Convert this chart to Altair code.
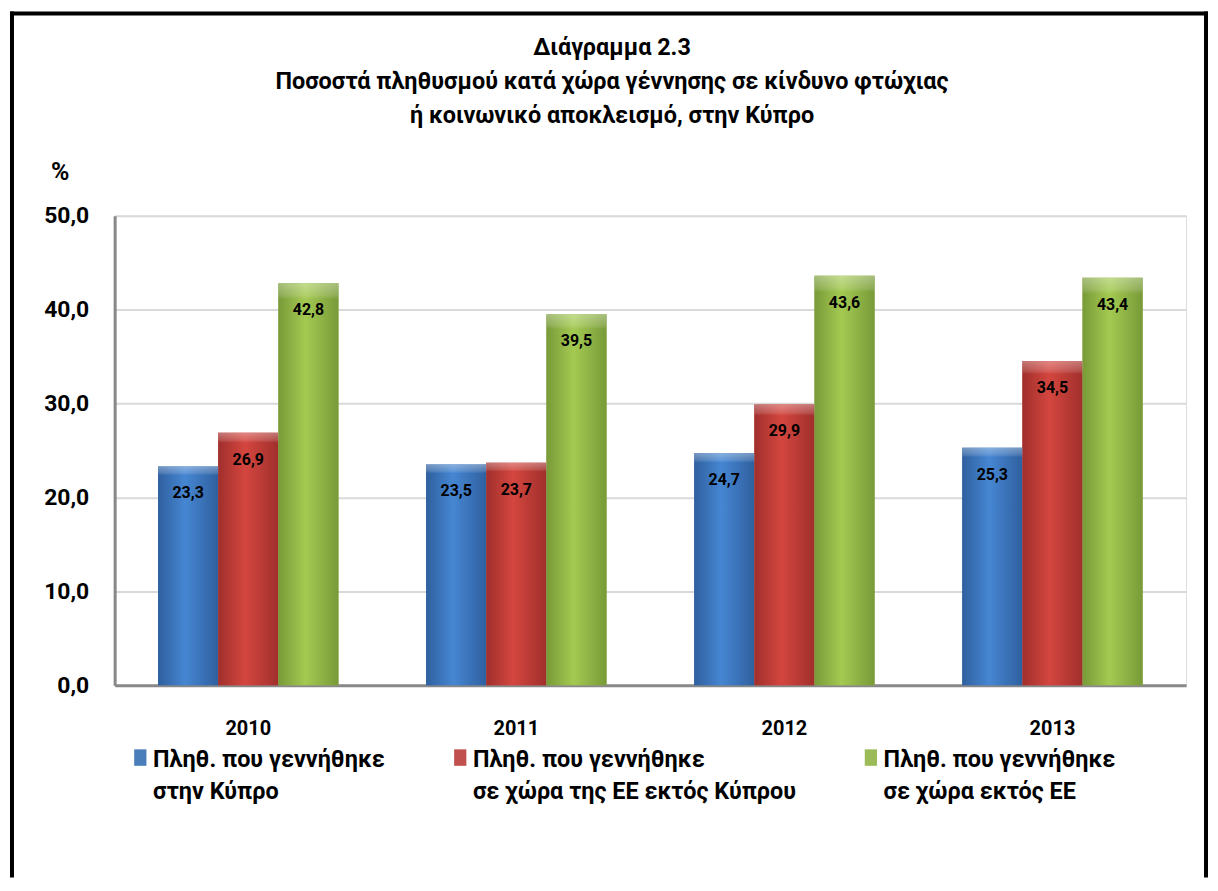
import altair as alt
import pandas as pd

# ---- data ----
years = ["2010", "2011", "2012", "2013"]
series = [
    "Πληθ. που γεννήθηκε|\u00a0\u00a0στην Κύπρο",
    "Πληθ. που γεννήθηκε|\u00a0σε χώρα της ΕΕ εκτός Κύπρου",
    "Πληθ. που γεννήθηκε|σε χώρα εκτός ΕΕ",
]
born_cyprus = [23.3, 23.5, 24.7, 25.3]
born_eu = [26.9, 23.7, 29.9, 34.5]
born_non_eu = [42.8, 39.5, 43.6, 43.4]
y_ticks = [0, 10, 20, 30, 40, 50]
title_lines = [
    "Διάγραμμα 2.3",
    "Ποσοστά πληθυσμού  κατά χώρα γέννησης σε κίνδυνο φτώχιας",
    "ή κοινωνικό αποκλεισμό, στην Κύπρο",
]
y_unit = "%"

FONT = "Roboto"
solid = ["#4a7ebb", "#c0504d", "#9bbb59"]

rows = []
for vals, s in zip([born_cyprus, born_eu, born_non_eu], series):
    for yr, v in zip(years, vals):
        rows.append({"year": yr, "series": s, "value": v})
df = pd.DataFrame(rows)


def grad(edge, center):
    return alt.Gradient(
        gradient="linear", x1=0, x2=1, y1=0, y2=0,
        stops=[
            alt.GradientStop(color=edge, offset=0),
            alt.GradientStop(color=center, offset=0.45),
            alt.GradientStop(color=edge, offset=1),
        ],
    )


g_blue = grad("#2f609f", "#4686d2")
g_red = grad("#a02f2c", "#d4463f")
g_green = grad("#789a38", "#a4ca52")

x_enc = alt.X("year:N", sort=years,
              scale=alt.Scale(paddingInner=0.327, paddingOuter=0.162),
              axis=alt.Axis(title=None, labelFont=FONT, labelFontSize=20,
                            labelFontWeight="bold", labelColor="black",
                            labelPadding=33, labelAngle=0, ticks=False,
                            domainColor="#888888", domainWidth=3, grid=False))
xo_enc = alt.XOffset("series:N", sort=series, scale=alt.Scale(paddingInner=0))
y_enc = alt.Y("value:Q",
              scale=alt.Scale(domain=[0, 50], nice=False),
              axis=alt.Axis(values=y_ticks, title=y_unit, titleAngle=0,
                            titleX=-55, titleY=-44, titleAlign="center",
                            titleBaseline="middle", titleFont=FONT,
                            titleFontSize=25, titleFontWeight="bold",
                            titleColor="black",
                            labelExpr="replace(format(datum.value, '.1f'), '.', ',')",
                            labelFont=FONT, labelFontSize=23,
                            labelFontWeight="bold", labelColor="black",
                            labelPadding=26, ticks=False,
                            domainColor="#888888", domainWidth=3,
                            gridColor="#d9d9d9", gridWidth=2))

base = alt.Chart(df)

legend_bars = base.mark_bar().encode(
    x=x_enc, xOffset=xo_enc, y=y_enc,
    color=alt.Color("series:N", sort=series,
                    scale=alt.Scale(domain=series, range=solid),
                    legend=alt.Legend(
                        title=None, orient="none", legendX=14, legendY=522,
                        direction="horizontal", columns=3, columnPadding=63,
                        symbolType="M-1,0.2L1,0.2L1,2.9L-1,2.9Z",
                        symbolSize=150,
                        symbolStrokeWidth=0, labelFont=FONT,
                        labelFontSize=23.5, labelFontWeight="bold",
                        labelColor="black", labelLimit=600, labelOffset=1,
                        labelBaseline="top",
                        labelExpr="split(datum.label, '|')",
                    )),
)

grad_bars = base.mark_bar().encode(
    x=x_enc, xOffset=xo_enc, y=y_enc,
    color={"condition": [
        {"test": f"datum.series === '{series[0]}'", "value": g_blue.to_dict()},
        {"test": f"datum.series === '{series[1]}'", "value": g_red.to_dict()},
    ], "value": g_green.to_dict()},
)

bevel = base.mark_bar(color=alt.Gradient(
    gradient="linear", x1=0, x2=0, y1=0, y2=1,
    stops=[alt.GradientStop(color="rgba(255,255,255,0.35)", offset=0),
           alt.GradientStop(color="rgba(255,255,255,0.15)", offset=0.03),
           alt.GradientStop(color="rgba(255,255,255,0)", offset=0.04),
           alt.GradientStop(color="rgba(255,255,255,0)", offset=1)])).encode(
    x=x_enc, xOffset=xo_enc, y=y_enc)

labels = base.transform_calculate(
    lbl="replace(format(datum.value, '.1f'), '.', ',')"
).mark_text(font=FONT, fontSize=16, fontWeight="bold", color="black",
            baseline="middle", dy=27).encode(
    x=x_enc, xOffset=xo_enc, y=y_enc, text="lbl:N")

one = alt.Data(values=[{"k": 1}])

title = alt.Chart(one).mark_text(
    text=title_lines, font=FONT, fontSize=23.5, fontWeight="bold",
    color="black", align="center", baseline="middle", lineHeight=34,
).encode(x=alt.value(499), y=alt.value(-168))

frame_top = alt.Chart(one).mark_rule(color="black", strokeWidth=4).encode(
    x=alt.value(-105), x2=alt.value(1097), y=alt.value(-203))
frame_left = alt.Chart(one).mark_rule(color="black", strokeWidth=4).encode(
    x=alt.value(-103), y=alt.value(-205), y2=alt.value(664))
frame_right = alt.Chart(one).mark_rule(color="black", strokeWidth=4).encode(
    x=alt.value(1095), y=alt.value(-205), y2=alt.value(664))

chart = alt.layer(
    legend_bars, grad_bars, bevel, labels, title,
    frame_top, frame_left, frame_right,
).properties(
    width=1075, height=471, padding=0, background="white",
).configure_view(stroke=None).configure(
    style={"guide-label": {"lineHeight": 32}}
)

chart.save("out.html", embed_options={"renderer": "svg", "actions": False})
